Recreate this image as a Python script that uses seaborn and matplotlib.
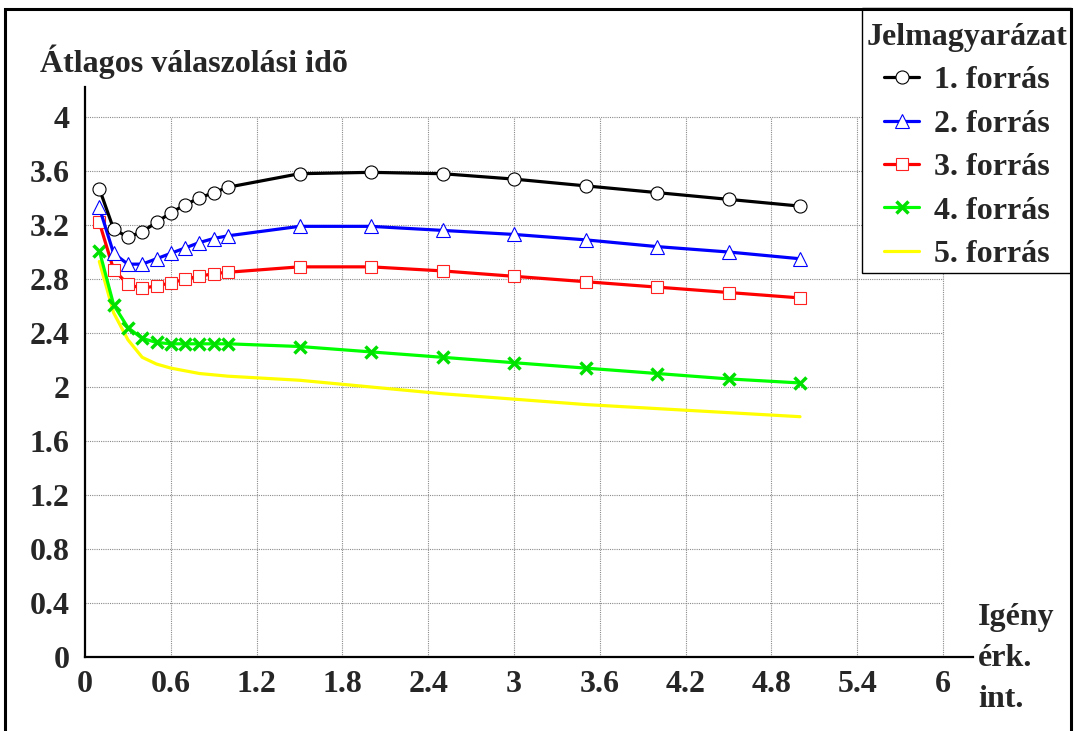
import numpy as np
import pandas as pd
import matplotlib
matplotlib.use("Agg")
import matplotlib.pyplot as plt
import seaborn as sns
from matplotlib.legend_handler import HandlerLine2D
from matplotlib.lines import Line2D
from matplotlib.patches import Rectangle
from matplotlib.offsetbox import VPacker, DrawingArea

# ---------------- data ----------------
x_vals = [0.1, 0.2, 0.3, 0.4, 0.5, 0.6, 0.7, 0.8, 0.9, 1.0,
          1.5, 2.0, 2.5, 3.0, 3.5, 4.0, 4.5, 5.0]
forras1 = [3.47, 3.17, 3.11, 3.15, 3.22, 3.29, 3.35, 3.40, 3.44, 3.48,
           3.58, 3.59, 3.58, 3.54, 3.49, 3.44, 3.39, 3.34]
forras2 = [3.33, 2.99, 2.91, 2.91, 2.95, 2.99, 3.03, 3.07, 3.10, 3.12,
           3.19, 3.19, 3.16, 3.13, 3.09, 3.04, 3.00, 2.95]
forras3 = [3.22, 2.87, 2.76, 2.73, 2.75, 2.77, 2.80, 2.82, 2.84, 2.85,
           2.89, 2.89, 2.86, 2.82, 2.78, 2.74, 2.70, 2.66]
forras4 = [3.01, 2.61, 2.44, 2.36, 2.33, 2.32, 2.32, 2.32, 2.32, 2.32,
           2.30, 2.26, 2.22, 2.18, 2.14, 2.10, 2.06, 2.03]
forras5 = [2.93, 2.55, 2.35, 2.22, 2.17, 2.14, 2.12, 2.10, 2.09, 2.08,
           2.05, 2.00, 1.95, 1.91, 1.87, 1.84, 1.81, 1.78]

series_names = ["1. forrás", "2. forrás", "3. forrás", "4. forrás", "5. forrás"]
x_ticks = [0, 0.6, 1.2, 1.8, 2.4, 3, 3.6, 4.2, 4.8, 5.4, 6]
y_ticks = [0, 0.4, 0.8, 1.2, 1.6, 2, 2.4, 2.8, 3.2, 3.6, 4]
y_title = "Átlagos válaszolási idõ"
x_title_lines = ["Igény", "érk.", "int."]
legend_title = "Jelmagyarázat"

# ---------------- style ----------------
sns.set_style("white")
plt.rcParams['font.family'] = ['Liberation Serif', 'DejaVu Serif']
plt.rcParams['font.weight'] = 'bold'
FS = 23

fig = plt.figure(figsize=(10.76, 7.31), dpi=100)
ax = fig.add_axes([85 / 1076, 74 / 731, 888 / 1076, 570 / 731])

styles = [
    dict(color="black", marker="o", markersize=9.4, markerfacecolor="white",
         markeredgecolor="black", markeredgewidth=0.8),
    dict(color="#0000ff", marker="^", markersize=9.5, markerfacecolor="white",
         markeredgecolor="#0000ff", markeredgewidth=0.8),
    dict(color="#ff0000", marker="s", markersize=9.2, markerfacecolor="white",
         markeredgecolor="#ff2020", markeredgewidth=0.8),
    dict(color="#00ff00", marker="x", markersize=9.0, markeredgewidth=2.5,
         markeredgecolor="#00e000"),
    dict(color="#ffff00", marker=None),
]
values = [forras1, forras2, forras3, forras4, forras5]

# grid limited to the tick range
ax.vlines(x_ticks[1:], 0, y_ticks[-1], colors="#8a8a8a", linewidth=0.8,
          linestyles=(0, (1, 1)), zorder=1)
ax.hlines(y_ticks[1:], 0, x_ticks[-1], colors="#8a8a8a", linewidth=0.8,
          linestyles=(0, (1, 1)), zorder=1)

draw_order = [4, 3, 2, 1, 0]
for i in draw_order:
    df = pd.DataFrame({"x": x_vals, "y": values[i]})
    sns.lineplot(data=df, x="x", y="y", ax=ax, linewidth=2.3,
                 zorder=3 + (4 - i), legend=False, **styles[i])

ax.set_xlim(0, 888 / 143.0)
ax.set_ylim(0, 570 / 135.0)
ax.set_xticks(x_ticks)
ax.set_yticks(y_ticks)
ax.set_xticklabels([f"{v:g}" for v in x_ticks], fontsize=FS, fontweight="bold")
ax.set_yticklabels([f"{v:g}" for v in y_ticks], fontsize=FS, fontweight="bold")
ax.tick_params(axis="y", direction="out", length=6, width=1, color="#666666", pad=5)
ax.tick_params(axis="x", direction="in", length=9, width=1, color="black", pad=9)
ax.set_xlabel("")
ax.set_ylabel("")
for s in ["top", "right"]:
    ax.spines[s].set_visible(False)
for s in ["left", "bottom"]:
    ax.spines[s].set_color("black")
    ax.spines[s].set_linewidth(1.6)

# axis titles
fig.text(40 / 1076, 1 - 72 / 731, y_title, fontsize=FS, fontweight="bold",
         ha="left", va="baseline")
for k, line in enumerate(x_title_lines):
    fig.text(978 / 1076, 1 - (625 + 41 * k) / 731, line, fontsize=FS,
             fontweight="bold", ha="left", va="baseline")


# legend with marker at the right end of the line sample
class EndMarkerHandler(HandlerLine2D):
    def get_xdata(self, legend, xdescent, ydescent, width, height, fontsize):
        xdata = np.array([-xdescent, -xdescent + width])
        return xdata, np.array([-xdescent + width])


handles = []
for i in range(5):
    st = dict(styles[i])
    handles.append(Line2D([], [], linewidth=2.3, **st))

leg = fig.legend(handles, series_names, loc="upper right",
                 bbox_to_anchor=(1071 / 1076, 1 - 8 / 731),
                 title=legend_title, fontsize=FS,
                 title_fontproperties={"size": FS, "weight": "bold"},
                 frameon=True, fancybox=False, edgecolor="black",
                 handlelength=1.1, handletextpad=0.45, labelspacing=0.44,
                 borderpad=0.12, borderaxespad=0, framealpha=1,
                 handler_map={Line2D: EndMarkerHandler()})
leg.get_frame().set_linewidth(1.0)
for t in leg.get_texts():
    t.set_fontweight("bold")

# extra space above the legend title
try:
    title_box = leg._legend_title_box
    spacer = DrawingArea(1, 8)
    padded = VPacker(children=[spacer, title_box], pad=0, sep=0, align="center")
    leg._legend_box._children[0] = padded
except Exception:
    pass

# outer frame
fig.add_artist(Rectangle((5 / 1076, -0.1), 1066 / 1076, 0.1 + 1 - 9 / 731,
                         transform=fig.transFigure, fill=False,
                         edgecolor="black", linewidth=2.2, zorder=10))

fig.savefig("out.png", dpi=100)
